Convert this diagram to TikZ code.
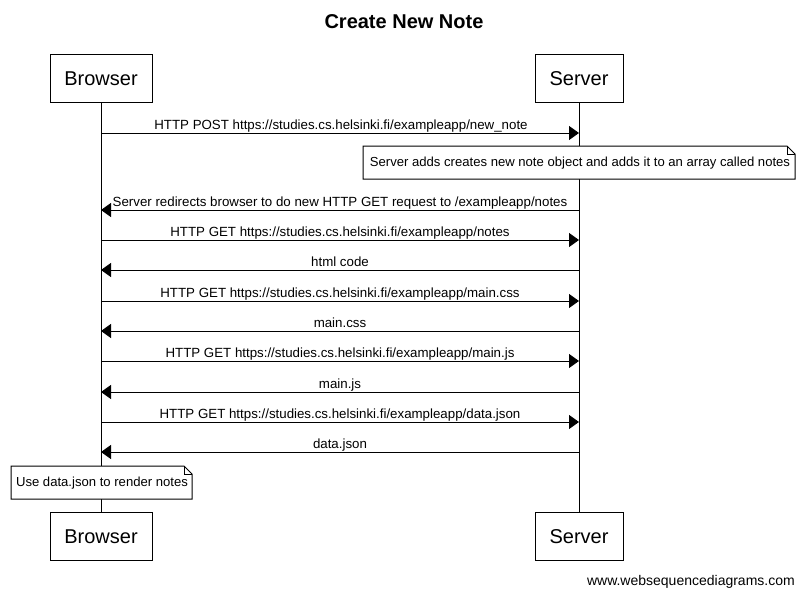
\documentclass[tikz,border=0pt]{standalone}
\usepackage{fontspec}
\setmainfont{Liberation Sans}
\usetikzlibrary{arrows.meta}
\begin{document}
\begin{tikzpicture}[x=1pt,y=-1pt,
  actor/.style={draw,line width=1pt,minimum width=102pt,minimum height=48pt,inner sep=0pt,font=\fontsize{20}{24}\selectfont},
  actorS/.style={actor,minimum width=88pt},
  msg/.style={line width=1pt,-{Triangle[length=10pt,width=14pt]}},
  lbl/.style={font=\fontsize{13.3}{15}\selectfont,inner sep=0pt,anchor=base},
  notetext/.style={font=\fontsize{13.1}{15}\selectfont,inner sep=0pt},
  life/.style={line width=1pt}]
\useasboundingbox (0,0) rectangle (804,595);
\fill[white] (0,0) rectangle (804,595);
\node[font=\fontsize{20}{24}\selectfont\bfseries] (title) at (404,22) {Create New Note};
\node[actor] (bt) at (101,78.5) {Browser};
\node[actorS] (st) at (579,78.5) {Server};
\node[actor] (bb) at (101,536.5) {Browser};
\node[actorS] (sb) at (579,536.5) {Server};
\draw[life] (bt.south) -- (bb.north);
\draw[life] (st.south) -- (sb.north);
% message endpoints
\foreach \n/\y in {1/133,3/210,4/240,5/270,6/301,7/331,8/361,9/392,10/422,11/452}{
  \coordinate (b\n) at (101,\y);
  \coordinate (s\n) at (579,\y);
}
\draw[msg] (b1) -- (s1);
\node[lbl] (l1) at (341,129.5) {HTTP POST https://studies.cs.helsinki.fi/exampleapp/new\_note};
% note 1
\draw[line width=1pt,fill=white] (363,146) -- (787,146) -- (795,154) -- (795,179) -- (363,179) -- cycle;
\draw[line width=1pt] (787,146) -- (787,154) -- (795,154);
\node[notetext] (n1) at (580,163) {Server adds creates new note object and adds it to an array called notes};
\draw[msg] (s3) -- (b3);
\node[lbl] (l3) at (340,206.5) {Server redirects browser to do new HTTP GET request to /exampleapp/notes};
\draw[msg] (b4) -- (s4);
\node[lbl] (l4) at (340,236.5) {HTTP GET https://studies.cs.helsinki.fi/exampleapp/notes};
\draw[msg] (s5) -- (b5);
\node[lbl] (l5) at (340,266.5) {html code};
\draw[msg] (b6) -- (s6);
\node[lbl] (l6) at (340,297.5) {HTTP GET https://studies.cs.helsinki.fi/exampleapp/main.css};
\draw[msg] (s7) -- (b7);
\node[lbl] (l7) at (340,327.5) {main.css};
\draw[msg] (b8) -- (s8);
\node[lbl] (l8) at (340,357.5) {HTTP GET https://studies.cs.helsinki.fi/exampleapp/main.js};
\draw[msg] (s9) -- (b9);
\node[lbl] (l9) at (340,388.5) {main.js};
\draw[msg] (b10) -- (s10);
\node[lbl] (l10) at (340,418.5) {HTTP GET https://studies.cs.helsinki.fi/exampleapp/data.json};
\draw[msg] (s11) -- (b11);
\node[lbl] (l11) at (340,448.5) {data.json};
% note 2
\draw[line width=1pt,fill=white] (11,466) -- (184,466) -- (192,474) -- (192,499) -- (11,499) -- cycle;
\draw[line width=1pt] (184,466) -- (184,474) -- (192,474);
\node[notetext] (n2) at (102,483) {Use data.json to render notes};
\node[font=\fontsize{14}{17}\selectfont,inner sep=0pt,anchor=base east] (wm) at (795,585) {www.websequencediagrams.com};
\end{tikzpicture}
\end{document}
